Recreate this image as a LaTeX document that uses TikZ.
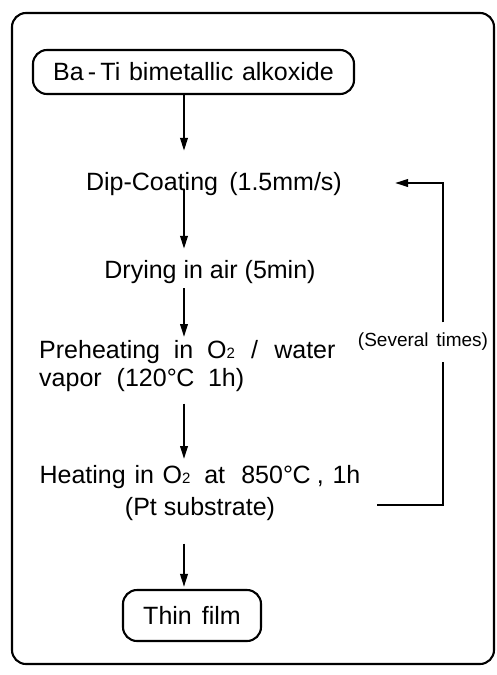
\documentclass[tikz,border=0pt]{standalone}
\usepackage{fontspec}
\setmainfont{Liberation Sans}
\usetikzlibrary{arrows.meta}
\newcommand{\Otwo}{O\raisebox{-0.5pt}{\fontsize{15}{15}\selectfont 2}}
\newcommand{\degC}{°\kern-0.5pt C}
\begin{document}
\begin{tikzpicture}[x=1pt,y=-1pt,
  line/.style={line width=2.1pt},
  arr/.style={line width=2.1pt,-{Triangle[length=13pt,width=7.5pt]}},
  txt/.style={inner sep=0pt,font=\fontsize{25}{28}\selectfont},
  stepnode/.style={txt,text height=18pt,text depth=0pt},
  term/.style={draw,line width=2.1pt,rounded corners=14pt,inner sep=0pt,font=\fontsize{25}{28}\selectfont}]
\useasboundingbox (0,0) rectangle (497,675);
\draw[line,rounded corners=14pt] (12,13) rectangle (494,664);
% nodes
\node[term,minimum width=321pt,minimum height=44pt] (top) at (193.5,72) {Ba\,-\,Ti\hspace{0.35em}bimetallic\hspace{0.35em}alkoxide};
\node[stepnode,anchor=base] (dip) at (214,190) {Dip-Coating\hspace{0.45em}(1.5mm/s)};
\node[stepnode,anchor=base] (dry) at (210,278) {Drying in air (5min)};
\node[txt,anchor=north west,align=left,font=\fontsize{25}{28}\selectfont] (pre) at (39,340) {Preheating\hspace{0.55em}in\hspace{0.55em}\Otwo\hspace{0.65em}/\hspace{0.65em}water\\vapor\hspace{0.6em}(120\degC\hspace{0.55em}1h)};
\node[txt,anchor=north,align=center,font=\fontsize{25}{32}\selectfont] (heat) at (200,465) {Heating\hspace{0.35em}in\hspace{0.35em}\Otwo\hspace{0.55em}at\hspace{0.65em}850\degC\hspace{0.25em},\hspace{0.35em}1h\\(Pt substrate)};
\node[term,minimum width=138pt,minimum height=51pt] (thin) at (192,615.5) {Thin\hspace{0.4em}film};
\node[inner sep=0pt,minimum height=39pt,font=\fontsize{19}{21}\selectfont] (sev) at (423,342) {(Several\hspace{0.4em}times)};
% arrows
\coordinate (ax) at (184,0);
\draw[arr,shorten >=21pt] (top.south -| ax) -- (ax |- dip.north);
\draw[arr,shorten >=11pt,shorten <=-1pt] (dip.south -| ax) -- (ax |- dry.north);
\draw[arr,shorten <=10pt,shorten >=3pt] (dry.south -| ax) -- (ax |- pre.north);
\draw[arr,shorten <=12pt,shorten >=6pt] (pre.south -| ax) -- (ax |- heat.north);
\draw[arr,shorten <=23pt,shorten >=2pt] (heat.south -| ax) -- (ax |- thin.north);
% feedback loop
\coordinate (fbS) at (377,505);
\coordinate (fbC) at (443,0);
\coordinate (fbE) at (395,183);
\draw[line] (fbS) -- (fbS -| fbC) -- (fbC |- sev.south);
\draw[arr] (fbC |- sev.north) -- (fbC |- fbE) -- (fbE);
\end{tikzpicture}
\end{document}
